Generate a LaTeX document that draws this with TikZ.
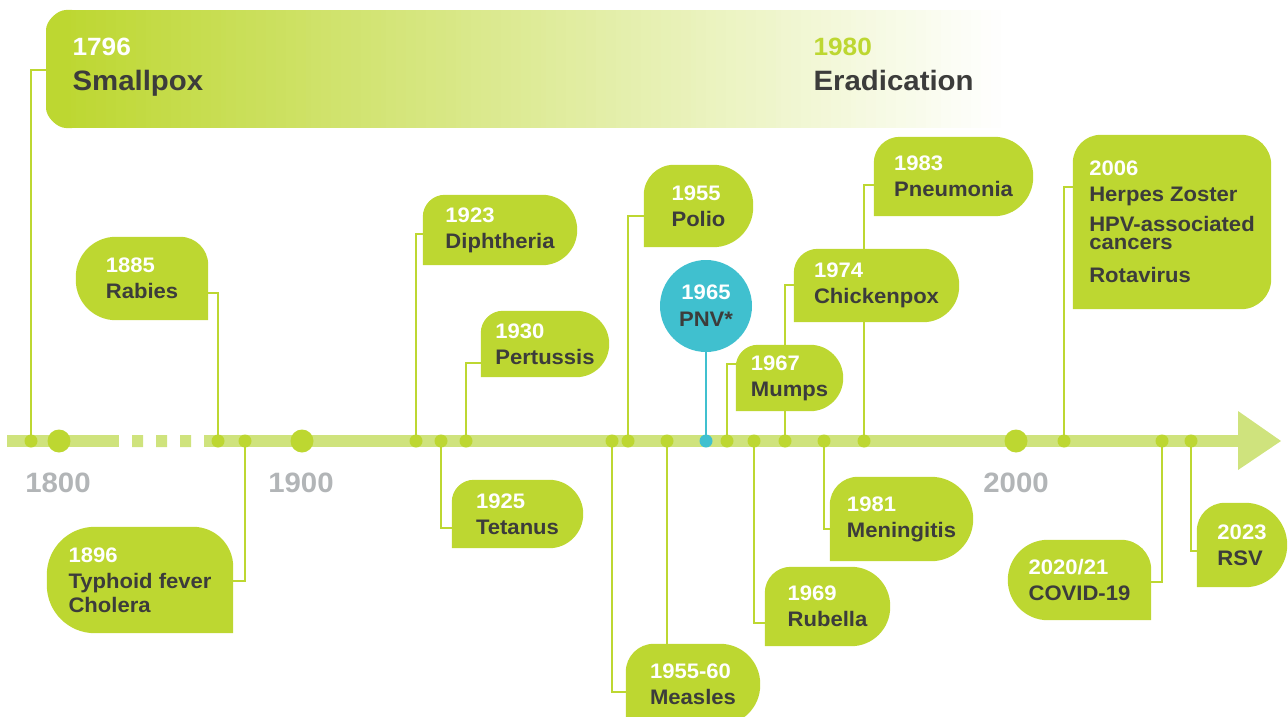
\documentclass[tikz,border=0pt]{standalone}
\usepackage{fontspec}
\setmainfont{Liberation Sans}[FakeStretch=1.05]
\usetikzlibrary{calc}
\definecolor{lime}{RGB}{189,215,49}
\definecolor{axisc}{RGB}{207,227,125}
\definecolor{dark}{RGB}{60,60,59}
\definecolor{pnvc}{RGB}{64,192,207}
\definecolor{yrgray}{RGB}{178,181,183}
\pgfdeclarelayer{conlayer}
\pgfdeclarelayer{boxlayer}
\pgfsetlayers{conlayer,boxlayer,main}
\newcommand\yr[1]{{\color{white}#1}}
% #2 node name, #3 rTL, #4 rTR, #5 rBR, #6 rBL
\newcommand\bubble[6][fill=lime]{%
 \begin{pgfonlayer}{boxlayer}
 \fill[#1] ($(#2.south west)+(0,-#6)$)
  -- ($(#2.north west)+(0,#3)$) .. controls ($(#2.north west)+(0,0.448*#3)$) and ($(#2.north west)+(0.448*#3,0)$) .. ($(#2.north west)+(#3,0)$)
  -- ($(#2.north east)+(-#4,0)$) .. controls ($(#2.north east)+(-0.448*#4,0)$) and ($(#2.north east)+(0,0.448*#4)$) .. ($(#2.north east)+(0,#4)$)
  -- ($(#2.south east)+(0,-#5)$) .. controls ($(#2.south east)+(0,-0.448*#5)$) and ($(#2.south east)+(-0.448*#5,0)$) .. ($(#2.south east)+(-#5,0)$)
  -- ($(#2.south west)+(#6,0)$) .. controls ($(#2.south west)+(0.448*#6,0)$) and ($(#2.south west)+(0,-0.448*#6)$) .. ($(#2.south west)+(0,-#6)$)
  -- cycle;
 \end{pgfonlayer}}
\begin{document}
\begin{tikzpicture}[x=1pt,y=-1pt,
  bx/.style={inner sep=0, align=left, text=dark, font=\fontsize{21}{26}\selectfont\bfseries},
  sdot/.style={circle, fill=lime, inner sep=0, minimum size=13},
  bdot/.style={circle, fill=lime, inner sep=0, minimum size=23},
  conn/.style={draw=lime, line width=2.5},
  decade/.style={text=yrgray, font=\fontsize{28}{30}\selectfont\bfseries, anchor=base},
  bigyr/.style={anchor=base west, font=\fontsize{25}{30}\selectfont\bfseries},
  bigname/.style={anchor=base west, text=dark, font=\fontsize{28}{30}\selectfont\bfseries}]
\useasboundingbox (0,0) rectangle (1288,717);

% axis
\begin{pgfonlayer}{conlayer}
\draw[axisc, line width=12] (7,441) -- (119,441) (204,441) -- (1242,441);
\fill[axisc] (132,435) rectangle (143,447) (156,435) rectangle (167,447) (180,435) rectangle (191,447);
\fill[axisc] (1238,411) -- (1281,441) -- (1238,470) -- cycle;
\end{pgfonlayer}

% decade markers
\node[bdot] (m1800) at (59,441) {};
\node[bdot] (m1900) at (302,441) {};
\node[bdot] (m2000) at (1016,441) {};
\node[decade] (y1800) at (58,492) {1800};
\node[decade] (y1900) at (301,492) {1900};
\node[decade] (y2000) at (1016,492) {2000};

% event dots
\node[sdot] (d1796) at (31,441) {};
\node[sdot] (d1885) at (218,441) {};
\node[sdot] (d1896) at (245,441) {};
\node[sdot] (d1923) at (416,441) {};
\node[sdot] (d1925) at (441,441) {};
\node[sdot] (d1930) at (466,441) {};
\node[sdot] (d1955a) at (612,441) {};
\node[sdot] (d1955) at (628,441) {};
\node[sdot] (d1960) at (667,441) {};
\node[sdot, fill=pnvc] (d1965) at (706,441) {};
\node[sdot] (d1967) at (727,441) {};
\node[sdot] (d1969) at (754,441) {};
\node[sdot] (d1974) at (785,441) {};
\node[sdot] (d1981) at (824,441) {};
\node[sdot] (d1983) at (864,441) {};
\node[sdot] (d2006) at (1064,441) {};
\node[sdot] (d2020) at (1162,441) {};
\node[sdot] (d2023) at (1191,441) {};

% banner (gradient from lime to white, built from overlapping strips)
\node[inner sep=0, minimum width=964, minimum height=118] (ban) at (528,69) {};
\begin{pgfonlayer}{boxlayer}
\fill[lime] (72,10) -- (66,10) .. controls (57,10) and (46,21) .. (46,30) -- (46,108)
  .. controls (46,117) and (57,128) .. (66,128) -- (72,128) -- cycle;
\foreach \i in {0,...,188}{
  \pgfmathtruncatemacro\p{100*(1-\i/188)}
  \fill[lime!\p!white] ({66+5*\i},10) rectangle ({66+5*\i+6},128);
}
\end{pgfonlayer}
\node[bigyr, text=white] (t1796) at (69,56) {1796};
\node[bigname] (tsp) at (69,91) {Smallpox};
\node[bigyr, text=lime] (t1980) at (810,56) {1980};
\node[bigname] (terad) at (810,91) {Eradication};

% boxes
\node[bx, minimum width=132, minimum height=83] (rab) at (142,278.5) {\yr{1885}\\Rabies};
\bubble{rab}{40}{28}{0}{40}
\node[bx, minimum width=186, minimum height=106] (typ) at (140,580) {\yr{1896}\\Typhoid fever\\[-2pt]Cholera};
\bubble{typ}{48}{40}{0}{48}
\node[bx, minimum width=154, minimum height=70] (dip) at (500,230) {\yr{1923}\\Diphtheria};
\bubble{dip}{22}{35}{35}{0}
\node[bx, minimum width=131, minimum height=68] (tet) at (517.5,514) {\yr{1925}\\Tetanus};
\bubble{tet}{22}{34}{34}{0}
\node[bx, minimum width=128, minimum height=66] (per) at (545,344) {\yr{1930}\\Pertussis};
\bubble{per}{22}{33}{33}{0}
\node[bx, minimum width=134, minimum height=81] (mea) at (693,684.5) {\yr{1955-60}\\Measles};
\bubble{mea}{28}{40}{40}{0}
\node[bx, minimum width=109, minimum height=82] (pol) at (698.5,206) {\yr{1955}\\Polio};
\bubble{pol}{30}{40}{40}{0}
\node[bx, minimum width=107, minimum height=66] (mum) at (789.5,378) {\yr{1967}\\Mumps};
\bubble{mum}{22}{33}{33}{0}
\node[bx, minimum width=125, minimum height=79] (rub) at (827.5,606.5) {\yr{1969}\\Rubella};
\bubble{rub}{26}{39}{39}{0}
\node[bx, minimum width=165, minimum height=73] (chi) at (876.5,285.5) {\yr{1974}\\Chickenpox};
\bubble{chi}{24}{36}{36}{0}
\node[bx, minimum width=159, minimum height=79] (pne) at (953.5,176.5) {\yr{1983}\\Pneumonia};
\bubble{pne}{26}{39}{39}{0}
\node[bx, minimum width=143, minimum height=84] (men) at (901.5,519) {\yr{1981}\\Meningitis};
\bubble{men}{28}{42}{42}{0}
\node[bx, minimum width=198, minimum height=174] (hpv) at (1172,222) {\yr{2006}\\Herpes Zoster\\[4pt]HPV-associated\\[-8pt]cancers\\[7pt]Rotavirus};
\bubble{hpv}{28}{30}{30}{0}
\node[bx, minimum width=143, minimum height=80] (cov) at (1079.5,580) {\yr{2020/21}\\COVID-19};
\bubble{cov}{40}{30}{0}{40}
\node[bx, minimum width=90, minimum height=84] (rsv) at (1242,545) {\yr{2023}\\RSV};
\bubble{rsv}{28}{42}{42}{0}

% PNV circle
\node[circle, fill=pnvc, minimum size=92, inner sep=0, align=center, text=dark,
  font=\fontsize{21}{27}\selectfont\bfseries] (pnv) at (706,306) {\yr{1965}\\PNV*};

% connectors
\begin{pgfonlayer}{conlayer}
\draw[conn] (d1796.center) |- ($(ban.south west)+(0,-58)$);
\draw[conn] (d1885.center) |- ($(rab.south east)+(0,-27)$);
\draw[conn] (d1896.center) |- ($(typ.south east)+(0,-52)$);
\draw[conn] (d1923.center) |- ($(dip.south west)+(0,-31)$);
\draw[conn] (d1925.center) |- ($(tet.south west)+(0,-20)$);
\draw[conn] (d1930.center) |- ($(per.south west)+(0,-14)$);
\draw[conn] (d1955a.center) |- ($(mea.south west)+(0,-33)$);
\draw[conn] (d1955.center) |- ($(pol.south west)+(0,-31)$);
\draw[conn] (d1960.center) -- (d1960.center |- mea.north);
\draw[draw=pnvc, line width=2.5] (d1965.center) -- (pnv.south);
\draw[conn] (d1967.center) |- ($(mum.south west)+(0,-47)$);
\draw[conn] (d1969.center) |- ($(rub.south west)+(0,-23)$);
\draw[conn] (d1974.center) |- ($(chi.south west)+(0,-37)$);
\draw[conn] (d1981.center) |- ($(men.south west)+(0,-32)$);
\draw[conn] (d1983.center) |- ($(pne.south west)+(0,-31)$);
\draw[conn] (d2006.center) |- ($(hpv.south west)+(0,-122)$);
\draw[conn] (d2020.center) |- ($(cov.south east)+(0,-38)$);
\draw[conn] (d2023.center) |- ($(rsv.south west)+(0,-36)$);
\end{pgfonlayer}
\end{tikzpicture}
\end{document}
